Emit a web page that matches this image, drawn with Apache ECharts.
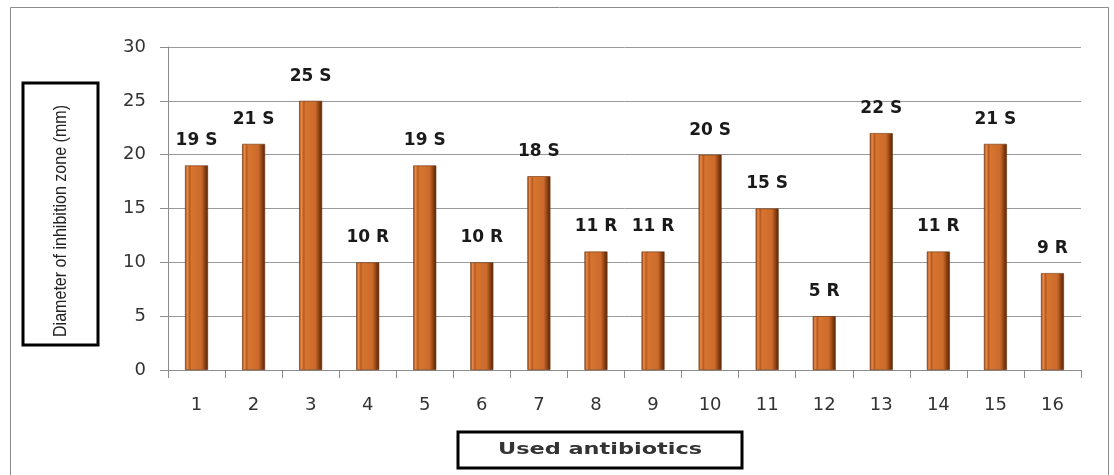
<!DOCTYPE html>
<html>
<head>
<meta charset="utf-8">
<script src="https://cdn.jsdelivr.net/npm/echarts@6/dist/echarts.min.js"></script>
<style>
html,body{margin:0;padding:0;background:#fff;}
#c{width:1114px;height:475px;}
</style>
</head>
<body>
<div id="c"></div>
<script>
const categories = ['1','2','3','4','5','6','7','8','9','10','11','12','13','14','15','16'];
const values = [19,21,25,10,19,10,18,11,11,20,15,5,22,11,21,9];
const sensitivity = ['S','S','S','R','S','R','S','R','R','S','S','R','S','R','S','R'];
const yTitle = 'Diameter of inhibition zone (mm)';
const xTitle = 'Used antibiotics';

const chart = echarts.init(document.getElementById('c'), null, {renderer:'canvas'});
const barColor = new echarts.graphic.LinearGradient(0,0,1,0,[
  {offset:0, color:'#8a4114'},
  {offset:0.1, color:'#ec8c48'},
  {offset:0.2, color:'#b8591f'},
  {offset:0.28, color:'#d6752f'},
  {offset:0.7, color:'#cc6b2c'},
  {offset:0.8, color:'#a8521c'},
  {offset:0.9, color:'#7a3810'},
  {offset:1, color:'#5a280a'}
]);
chart.setOption({
  backgroundColor:'#fff',
  animation:false,
  grid:{left:168,right:33,top:47,bottom:105,containLabel:false},
  xAxis:{
    type:'category',
    data:categories,
    axisLine:{lineStyle:{color:'#8c8c8c',width:1}},
    axisTick:{show:true,length:8,lineStyle:{color:'#8c8c8c'}},
    axisLabel:{margin:26,fontSize:18,color:'#333',fontFamily:'DejaVu Sans, sans-serif'}
  },
  yAxis:{
    type:'value',min:0,max:30,interval:5,
    axisLine:{show:true,lineStyle:{color:'#8c8c8c',width:1}},
    axisTick:{show:true,length:8,lineStyle:{color:'#8c8c8c'}},
    axisLabel:{margin:22,fontSize:18,color:'#333',fontFamily:'DejaVu Sans, sans-serif'},
    splitLine:{lineStyle:{color:'#9a9a9a',width:1}}
  },
  series:[{
    type:'bar',
    data:values,
    barWidth:23,
    itemStyle:{color:barColor,borderColor:'#6b300c',borderWidth:0.6},
    label:{
      show:true,position:'top',distance:16,
      fontSize:17,fontWeight:'bold',color:'#1a1a1a',
      fontFamily:'DejaVu Sans, sans-serif',
      formatter:p=>p.value+' '+sensitivity[p.dataIndex]
    }
  }],
  graphic:[
    {type:'rect',shape:{x:10.5,y:7.5,width:1098,height:480},style:{fill:'none',stroke:'#8c8c8c',lineWidth:1},silent:true,z:-1},
    {type:'rect',shape:{x:23,y:83,width:75,height:262},style:{fill:'#fff',stroke:'#000',lineWidth:3}},
    {type:'text',x:61,y:221,rotation:Math.PI/2,scaleX:0.845,
      style:{text:yTitle,fontSize:19,fontFamily:'Liberation Sans, Arial, sans-serif',fill:'#222',textAlign:'center',textVerticalAlign:'middle'}},
    {type:'rect',shape:{x:458,y:432,width:284,height:36},style:{fill:'#fff',stroke:'#000',lineWidth:3}},
    {type:'text',x:600,y:450,scaleX:1.4,
      style:{text:xTitle,fontSize:16,fontWeight:'bold',fontFamily:'DejaVu Sans, sans-serif',fill:'#333',textAlign:'center',textVerticalAlign:'middle'}}
  ]
});
</script>
</body>
</html>
